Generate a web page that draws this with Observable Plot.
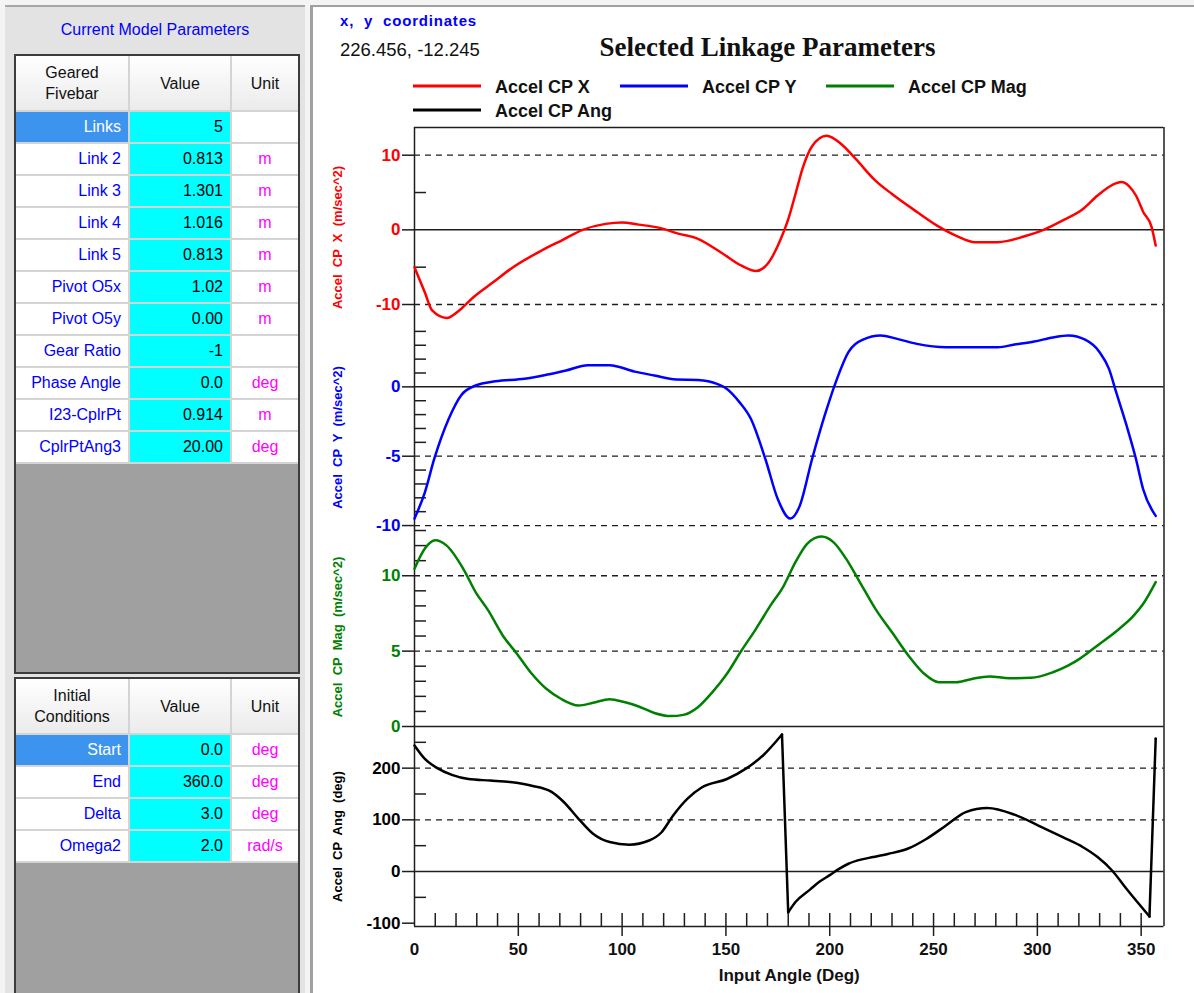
<!DOCTYPE html>
<html>
<head>
<meta charset="utf-8">
<script src="https://cdn.jsdelivr.net/npm/d3@7"></script>
<script src="https://cdn.jsdelivr.net/npm/@observablehq/plot@0.6"></script>
<style>
html, body { margin: 0; padding: 0; }
body { width: 1194px; height: 993px; position: relative; overflow: hidden; background: #f4f4f4;
       font-family: "Liberation Sans", Arial, Helvetica, sans-serif; }
#side { position: absolute; left: 5px; top: 5px; width: 300px; height: 988px; background: #e3e3e3;
        border-top: 2px solid #a8a8a8; box-sizing: border-box; }
#pane { position: absolute; left: 310px; top: 5px; width: 884px; height: 988px; background: #fff;
        border-left: 3px solid #a0a0a0; border-top: 2px solid #a0a0a0; box-sizing: border-box; }
.tbl { position: absolute; left: 14px; width: 286px; box-sizing: border-box; border: 2px solid #3c3c3c;
       background: #a0a0a0; overflow: hidden; }
.grid { display: grid; grid-template-columns: 112px 100px 66px; gap: 2px; background: #d4d4d4; padding-bottom: 2px; }
.grid > div { display: flex; align-items: center; font-size: 16px; }
.hd { background: linear-gradient(#ffffff, #ebebeb); justify-content: center; text-align: center; line-height: 21px; color: #111; }
.lab { background: #fff; color: #0000ff; justify-content: flex-end; padding-right: 7px; }
.sel { background: #3d94ee; color: #fff; }
.val { background: #00ffff; color: #000; justify-content: flex-end; padding-right: 7px; }
.unit { background: #fff; color: #ff00ff; justify-content: center; }
svg.panel { position: absolute; left: 313px; }
</style>
</head>
<body>
<div id="side"></div>
<div id="pane"></div>
<script>
// ---------- parameter tables ----------
const modelLabels = ["Links", "Link 2", "Link 3", "Link 4", "Link 5", "Pivot O5x", "Pivot O5y", "Gear Ratio", "Phase Angle", "I23-CplrPt", "CplrPtAng3"];
const modelValues = ["5", "0.813", "1.301", "1.016", "0.813", "1.02", "0.00", "-1", "0.0", "0.914", "20.00"];
const modelUnits  = ["", "m", "m", "m", "m", "m", "m", "", "deg", "m", "deg"];
const initLabels = ["Start", "End", "Delta", "Omega2"];
const initValues = ["0.0", "360.0", "3.0", "2.0"];
const initUnits  = ["deg", "deg", "deg", "rad/s"];

// ---------- coupler point acceleration vs. input angle ----------
const xAngle = [0, 5, 8.5, 15.5, 21.5, 28.5, 38, 47, 61, 71, 81, 92, 100, 108, 117.5, 127, 136.5, 148, 157.5, 164.5, 170.5, 176, 180, 183.5, 187, 191.5, 198.5, 205.5, 212.5, 222, 230, 242, 251.5, 261, 270, 281, 293.5, 303, 312.5, 322, 329, 336, 340.5, 344, 347.5, 351, 355, 357];
const accelX = [-5.0, -8.4, -10.8, -11.8, -10.8, -9.0, -7.0, -5.1, -2.8, -1.4, 0.0, 0.8, 1.0, 0.7, 0.3, -0.5, -1.2, -3.1, -4.8, -5.5, -4.4, -1.5, 1.4, 4.8, 8.3, 11.2, 12.6, 11.5, 9.5, 6.6, 4.8, 2.4, 0.6, -0.8, -1.65, -1.65, -0.9, 0.0, 1.3, 2.8, 4.6, 6.0, 6.4, 5.9, 4.6, 2.4, 0.4, -2.1];

const yAngle = [0, 5, 9.5, 16.5, 22.5, 29.5, 39, 53, 63.5, 73, 83.5, 94, 106, 115.5, 126, 136.5, 146, 150.5, 156.5, 162, 169, 175, 181, 185.5, 191.5, 197.5, 203.5, 209, 216, 224.5, 232.5, 242, 256, 268, 281, 289, 298.5, 307.5, 315, 323, 330, 334.5, 338, 343, 347.5, 351, 357];
const accelY = [-9.5, -7.6, -5.2, -2.3, -0.6, 0.1, 0.4, 0.58, 0.87, 1.18, 1.56, 1.56, 1.1, 0.82, 0.53, 0.5, 0.2, -0.15, -1.1, -2.3, -5.2, -8.1, -9.5, -8.6, -5.2, -2.1, 0.58, 2.5, 3.4, 3.7, 3.46, 3.1, 2.86, 2.86, 2.86, 3.05, 3.27, 3.56, 3.7, 3.4, 2.5, 1.3, -0.4, -2.8, -5.2, -7.4, -9.3];

const magAngle = [0, 5, 10, 15.5, 23.5, 29.5, 35.5, 42.5, 49.5, 56.5, 63.5, 70.5, 79, 86, 94, 101, 108, 115.5, 123.5, 129.5, 136.5, 143.5, 150.5, 157.5, 164.5, 171.5, 177.5, 183.5, 189, 196, 202, 208, 214, 222, 230.5, 238.5, 245.5, 252.5, 261, 268, 277, 286.5, 297, 307.5, 315, 320.5, 329, 338.5, 346.5, 351, 357];
const accelMag = [10.46, 11.8, 12.35, 12.0, 10.46, 8.9, 7.7, 6.04, 4.8, 3.5, 2.5, 1.84, 1.39, 1.57, 1.81, 1.62, 1.33, 0.9, 0.69, 0.77, 1.28, 2.28, 3.5, 5.04, 6.48, 8.03, 9.25, 10.9, 12.1, 12.6, 12.2, 11.1, 9.7, 7.8, 6.15, 4.6, 3.5, 2.94, 2.94, 3.14, 3.32, 3.2, 3.23, 3.6, 4.05, 4.5, 5.38, 6.37, 7.37, 8.14, 9.58];

const angAngle = [0, 5, 11, 18, 26, 36.5, 46, 56.5, 66, 72, 79, 86, 94, 103.5, 113, 119, 124.5, 131.5, 138.5, 150.5, 160, 168, 177, 180, 183.5, 190.5, 195, 200, 204.5, 209, 215, 221, 228, 237.5, 246.5, 256, 265.5, 276, 289, 300.5, 312.5, 322, 329, 336, 343, 354, 357];
const accelAng = [244, 218, 200, 187, 179, 176, 173, 166, 154, 134, 102, 73, 57, 52, 60, 76, 108, 141, 163, 179, 200, 225, 265, -79, -59, -35, -20, -7, 5, 15, 23, 28, 34, 44, 63, 89, 115, 123, 110, 89, 66, 47, 28, 2, -34, -87, 257];

// ---------- axis ticks and grid lines ----------
const angleDomain = [0, 361];
const angleLabelTicks = [0, 50, 100, 150, 200, 250, 300, 350];
const angleMajorTicks = [50, 100, 150, 200, 250, 300, 350];
const angleMinorTicks = [10, 20, 30, 40, 50, 60, 70, 80, 90, 100, 110, 120, 130, 140, 150, 160, 170, 180, 190, 200, 210, 220, 230, 240, 250, 260, 270, 280, 290, 300, 310, 320, 330, 340, 350];
const xLabelTicks = [-10, 0, 10],   xMinorTicks = [-5, 5],   xDashed = [-10, 10];
const yLabelTicks = [-10, -5, 0],   yMinorTicks = [-9, -8, -7, -6, -4, -3, -2, -1, 1, 2, 3, 4],   yDashed = [-10, -5];
const magLabelTicks = [0, 5, 10],   magMinorTicks = [1, 2, 3, 4, 6, 7, 8, 9, 11, 12, 13],   magDashed = [5, 10];
const angLabelTicks = [-100, 0, 100, 200], angMinorTicks = [-50, 50, 150, 250], angDashed = [100, 200];

const seriesNames = ["Accel CP X", "Accel CP Y", "Accel CP Mag", "Accel CP Ang"];
const seriesColors = ["#ff0000", "#0000ff", "#008000", "#000000"];

// ---------- tables ----------
function buildTable(top, height, head, labels, values, units) {
  const box = document.createElement("div");
  box.className = "tbl";
  box.style.top = top + "px";
  box.style.height = height + "px";
  const grid = document.createElement("div");
  grid.className = "grid";
  grid.style.gridTemplateRows = `54px repeat(${labels.length}, 30px)`;
  const add = (cls, txt) => { const c = document.createElement("div"); c.className = cls; c.innerHTML = txt; grid.appendChild(c); };
  add("hd", head); add("hd", "Value"); add("hd", "Unit");
  labels.forEach((l, i) => {
    add(i === 0 ? "lab sel" : "lab", l);
    add("val", values[i]);
    add("unit", units[i]);
  });
  box.appendChild(grid);
  document.body.appendChild(box);
}
buildTable(54, 620, "Geared<br>Fivebar", modelLabels, modelValues, modelUnits);
buildTable(677, 318, "Initial<br>Conditions", initLabels, initValues, initUnits);

// ---------- header texts and legend ----------
const head = d3.select("body").append("svg")
  .attr("width", 1194).attr("height", 125)
  .style("position", "absolute").style("left", 0).style("top", 0)
  .style("font-family", "'Liberation Sans', Arial, sans-serif");
head.append("text").attr("x", 155).attr("y", 35).attr("text-anchor", "middle")
  .attr("font-size", 16).attr("fill", "#0000ff").text("Current Model Parameters");
head.append("text").attr("x", 340).attr("y", 26).attr("font-size", 15).attr("font-weight", "bold")
  .attr("letter-spacing", 0.8).attr("fill", "#0000ff").attr("xml:space", "preserve").text("x,  y  coordinates");
head.append("text").attr("x", 340).attr("y", 56).attr("font-size", 18.5).attr("fill", "#111").text("226.456, -12.245");
head.append("text").attr("x", 767.5).attr("y", 56).attr("text-anchor", "middle")
  .attr("font-family", "'Liberation Serif', 'Times New Roman', serif")
  .attr("font-size", 27).attr("font-weight", "bold").attr("fill", "#111").text("Selected Linkage Parameters");
const legendSlots = [[413, 86], [620, 86], [826, 86], [413, 110]];
seriesNames.forEach((name, i) => {
  const [lx, ly] = legendSlots[i];
  head.append("line").attr("x1", lx).attr("x2", lx + 68).attr("y1", ly).attr("y2", ly)
    .attr("stroke", seriesColors[i]).attr("stroke-width", 3);
  head.append("text").attr("x", lx + 82).attr("y", ly + 6.7).attr("font-size", 18).attr("font-weight", "bold")
    .attr("fill", "#111").text(name);
});

// ---------- stacked panels ----------
const ink = "#1e1e1e";
const panels = [
  {angle: xAngle, value: accelX, color: seriesColors[0], domain: [-13.08, 13.71], labels: xLabelTicks, minor: xMinorTicks,
   dashed: xDashed, title: "Accel  CP  X  (m/sec^2)", top: 127, height: 200},
  {angle: yAngle, value: accelY, color: seriesColors[1], domain: [-10.14, 4.28], labels: yLabelTicks, minor: yMinorTicks,
   dashed: yDashed, title: "Accel  CP  Y  (m/sec^2)", top: 327, height: 200},
  {angle: magAngle, value: accelMag, color: seriesColors[2], domain: [0, 13.2], labels: magLabelTicks, minor: magMinorTicks,
   dashed: magDashed, title: "Accel  CP  Mag  (m/sec^2)", top: 527, height: 199},
  {angle: angAngle, value: accelAng, color: seriesColors[3], domain: [-106.4, 280.6], labels: angLabelTicks, minor: angMinorTicks,
   dashed: angDashed, title: "Accel  CP  Ang  (deg)", top: 726, height: 200}
];

// split a series where the angle wraps (jumps of more than 180) so the jump is drawn straight
function segmentRows(angle, value) {
  const rows = [];
  let seg = 0;
  angle.forEach((a, i) => {
    if (i > 0 && Math.abs(value[i] - value[i - 1]) > 180) {
      seg++;
      rows.push({angle: angle[i - 1], value: value[i - 1], seg});
      rows.push({angle: a, value: value[i], seg});
      seg++;
    }
    rows.push({angle: a, value: value[i], seg});
  });
  return rows;
}

panels.forEach((p, i) => {
  const last = i === panels.length - 1;
  const rows = segmentRows(p.angle, p.value);
  const marks = [
    Plot.ruleY(p.dashed, {stroke: ink, strokeWidth: 1.3, strokeDasharray: "6,5"}),
    Plot.ruleY([0], {stroke: ink, strokeWidth: 1.5}),
    Plot.ruleX(angleDomain, {stroke: ink, strokeWidth: 1.5}),
    Plot.axisY({ticks: p.labels, tickSize: 12, tickPadding: 2, tickFormat: d => String(d), label: null,
      fontSize: 17, fontWeight: "bold", fill: p.color, stroke: ink, strokeWidth: 1.5}),
    Plot.axisY({ticks: p.minor, tickSize: 12, dx: 12, text: null, label: null, stroke: ink, strokeWidth: 1.5}),
    Plot.text([p.title], {text: d => d, frameAnchor: "left", textAnchor: "middle", lineAnchor: "middle",
      rotate: -90, dx: -76.5, dy: 10, fontSize: 13, fontWeight: "bold", fill: p.color}),
    Plot.line(rows, {x: "angle", y: "value", z: "seg", stroke: p.color, strokeWidth: 2.5, curve: "monotone-x"})
  ];
  if (i === 0) marks.push(Plot.ruleY([p.domain[1]], {stroke: ink, strokeWidth: 1.5}));
  if (last) {
    marks.push(
      Plot.ruleY([p.domain[0]], {stroke: ink, strokeWidth: 1.5}),
      Plot.axisX({ticks: angleMinorTicks, tickSize: 13, dy: -13, text: null, label: null, stroke: ink, strokeWidth: 1.5}),
      Plot.axisX({ticks: angleMajorTicks, tickSize: 10, text: null, label: null, stroke: ink, strokeWidth: 1.5}),
      Plot.axisX({ticks: angleLabelTicks, tickSize: 0, tickPadding: 16, tickFormat: d => String(d), label: null,
        fontSize: 17, fontWeight: "bold", fill: "#111"}),
      Plot.text(["Input Angle (Deg)"], {text: d => d, frameAnchor: "bottom", dy: 54, lineAnchor: "bottom",
        fontSize: 17, fontWeight: "bold", fill: "#111"})
    );
  }
  const svg = Plot.plot({
    width: 881,
    height: p.height + (last ? 67 : 0),
    marginLeft: 101,
    marginRight: 30.5,
    marginTop: 0,
    marginBottom: last ? 67 : 0,
    x: {domain: angleDomain, axis: null, label: null},
    y: {domain: p.domain, axis: null, label: null},
    style: {overflow: "visible", background: "transparent", fontFamily: "'Liberation Sans', Arial, sans-serif"},
    marks
  });
  svg.classList.add("panel");
  svg.style.top = p.top + "px";
  document.body.appendChild(svg);
});
</script>
</body>
</html>
